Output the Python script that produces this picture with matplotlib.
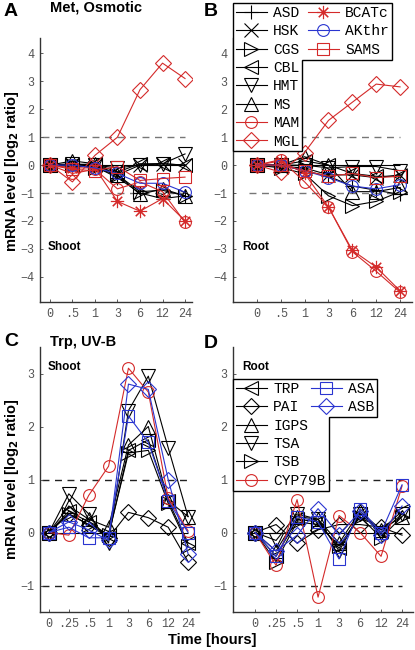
import matplotlib
matplotlib.use("Agg")
import matplotlib.pyplot as plt
from matplotlib.patches import Polygon
import numpy as np

# time points (categorical)
met_times = ['0', '.5', '1', '3', '6', '12', '24']
trp_times = ['0', '.25', '.5', '1', '3', '6', '12', '24']

# Met pathway, osmotic stress, shoot
met_shoot = {
    'ASD':   [0, -0.05, -0.05, -0.45, -1.0, -1.2, -1.1],
    'HSK':   [0, 0.0, 0.0, -0.35, 0.0, 0.05, 0.0],
    'CGS':   [0, 0.0, -0.1, -0.35, -0.95, -0.9, -1.1],
    'CBL':   [0, 0.0, 0.05, -0.25, 0.05, 0.05, 0.0],
    'HMT':   [0, 0.05, 0.0, -0.1, 0.0, 0.05, 0.4],
    'MS':    [0, 0.15, 0.05, -0.35, -1.05, -0.85, -1.1],
    'MAM':   [0, -0.3, -0.15, -0.85, -0.6, -0.95, -2.05],
    'MGL':   [0, -0.6, 0.35, 1.0, 2.7, 3.65, 3.1],
    'BCATc': [0, -0.1, -0.1, -1.3, -1.65, -1.2, -2.0],
    'AKthr': [0, 0.0, -0.1, -0.3, -0.65, -0.65, -0.97],
    'SAMS':  [0, -0.15, -0.2, -0.05, -0.55, -0.48, -0.43],
}

# Met pathway, osmotic stress, root
met_root = {
    'ASD':   [0, 0.0, -0.2, -0.4, -0.75, -0.9, -1.05],
    'HSK':   [0, -0.05, -0.1, -0.35, -0.35, -0.45, -0.35],
    'CGS':   [0, -0.1, -0.3, -1.1, -1.45, -1.3, -0.95],
    'CBL':   [0, 0.0, 0.15, 0.0, -0.3, -0.4, -0.4],
    'HMT':   [0, 0.0, 0.0, -0.1, -0.05, -0.05, -0.2],
    'MS':    [0, 0.0, 0.3, 0.0, -0.95, -0.95, -0.8],
    'MAM':   [0, 0.2, -0.6, -1.5, -3.1, -3.8, -4.55],
    'MGL':   [0, -0.25, 0.45, 1.6, 2.25, 2.9, 2.8],
    'BCATc': [0, 0.15, -0.3, -1.5, -3.05, -3.65, -4.5],
    'AKthr': [0, 0.0, -0.2, -0.45, -0.75, -0.85, -0.7],
    'SAMS':  [0, 0.0, -0.2, -0.4, -0.3, -0.45, -0.4],
}

# Trp pathway, UV-B, shoot
trp_shoot = {
    'TRP':    [0, 0.4, 0.2, -0.05, 1.55, 1.75, 0.6, -0.2],
    'PAI':    [0, 0.35, 0.15, -0.1, 0.38, 0.28, 0.1, -0.55],
    'IGPS':   [0, 0.5, 0.25, 0.1, 1.65, 2.0, 0.6, 0.3],
    'TSA':    [0, 0.73, 0.35, -0.2, 2.3, 2.95, 1.6, 0.3],
    'TSB':    [0, 0.35, 0.15, -0.05, 1.5, 1.55, 0.55, -0.25],
    'CYP79B': [0, -0.05, 0.7, 1.25, 3.1, 2.65, 0.65, 0.03],
    'ASA':    [0, 0.1, -0.1, -0.1, 2.2, 1.7, 0.6, 0.0],
    'ASB':    [0, 0.2, 0.05, -0.15, 2.8, 2.7, 1.0, -0.4],
}

# Trp pathway, UV-B, root
trp_root = {
    'TRP':    [0, -0.45, 0.25, 0.2, -0.3, 0.35, 0.05, 0.4],
    'PAI':    [0, 0.15, -0.2, 0.05, 0.15, 0.15, 0.1, -0.05],
    'IGPS':   [0, -0.35, 0.3, 0.25, -0.2, 0.4, 0.05, 0.3],
    'TSA':    [0, -0.15, 0.35, 0.25, -0.35, 0.35, 0.0, 0.35],
    'TSB':    [0, -0.55, 0.2, 0.15, -0.25, 0.3, -0.1, 0.3],
    'CYP79B': [0, -0.62, 0.62, -1.22, 0.32, 0.0, -0.45, 0.88],
    'ASA':    [0, -0.45, 0.3, 0.2, -0.5, 0.45, 0.0, 0.9],
    'ASB':    [0, -0.35, -0.05, 0.45, -0.05, 0.4, -0.05, 0.5],
}

RED = '#d42a2a'
BLUE = '#2a35d0'
BLACK = '#000000'

met_style = {
    'ASD': ('+', BLACK), 'HSK': ('x', BLACK), 'CGS': ('>', BLACK),
    'CBL': ('<', BLACK), 'HMT': ('v', BLACK), 'MS': ('^', BLACK),
    'MAM': ('o', RED), 'MGL': ('D', RED), 'BCATc': ((8, 2, 0), RED),
    'AKthr': ('o', BLUE), 'SAMS': ('s', RED),
}
trp_style = {
    'TRP': ('<', BLACK), 'PAI': ('D', BLACK), 'IGPS': ('^', BLACK),
    'TSA': ('v', BLACK), 'TSB': ('>', BLACK), 'CYP79B': ('o', RED),
    'ASA': ('s', BLUE), 'ASB': ('D', BLUE),
}

W, H = 415, 650
MONO = 'Liberation Mono'
SANS = 'Liberation Sans'


def px_axes(fig, left, top, right, bottom):
    return fig.add_axes([left / W, 1 - bottom / H, (right - left) / W, (bottom - top) / H])


def draw_panel(ax, times, data, style, xlim, ylim, yticks, dash_color, label):
    x = np.arange(len(times))
    ax.hlines([1, -1], -0.35, len(times) - 1, colors=dash_color,
              linestyles=(0, (5, 4)), linewidth=1.0, zorder=1)
    ax.hlines([0], -0.35, len(times) - 1, colors='black', linewidth=0.8, zorder=1)
    handles = {}
    for name, vals in data.items():
        m, c = style[name]
        ms = 8.5 if m in ('D', 'o', 's') else 9.5
        h, = ax.plot(x, vals, color=c, marker=m, markersize=ms,
                     markerfacecolor='none', markeredgecolor=c,
                     markeredgewidth=0.8, linewidth=0.8, zorder=2)
        handles[name] = h
    ax.set_xlim(*xlim)
    ax.set_ylim(*ylim)
    ax.set_xticks(x)
    ax.set_xticklabels(times)
    ax.set_yticks(yticks)
    ax.set_yticklabels([str(t).replace('-', '\u2212') for t in yticks])
    for s in ['top', 'right']:
        ax.spines[s].set_visible(False)
    for s in ['left', 'bottom']:
        ax.spines[s].set_color('#333333')
        ax.spines[s].set_linewidth(1.0)
    ax.tick_params(direction='in', length=2, width=0.6, colors='#444444',
                   labelsize=8.5, pad=4)
    for t in ax.get_xticklabels() + ax.get_yticklabels():
        t.set_fontfamily(MONO)
        t.set_color('#555555')
    ax.text(0.05, label[1], label[0], transform=ax.transAxes, family=SANS,
            fontsize=8.5, fontweight='bold', va='center')
    return handles


def split_legend(fig, ax, handles, col1, col2, x1, x2, ytop):
    kw = dict(loc='upper left', bbox_transform=fig.transFigure, frameon=False,
              prop={'family': MONO, 'size': 10.5}, handlelength=2.1,
              handletextpad=0.45, borderpad=0.2, labelspacing=0.3,
              borderaxespad=0)
    leg1 = ax.legend([handles[n] for n in col1], col1,
                     bbox_to_anchor=(x1 / W, 1 - ytop / H), **kw)
    ax.add_artist(leg1)
    leg2 = ax.legend([handles[n] for n in col2], col2,
                     bbox_to_anchor=(x2 / W, 1 - ytop / H), **kw)
    leg1.set_zorder(6)
    leg2.set_zorder(6)
    return leg1, leg2


def legend_frame(fig, ax, leg1, leg2):
    fig.canvas.draw()
    r = fig.canvas.get_renderer()
    b1 = leg1.get_window_extent(r)
    b2 = leg2.get_window_extent(r)
    fw, fh = fig.bbox.width, fig.bbox.height
    top = max(b1.y1, b2.y1)
    pts = [(b1.x0, top), (b2.x1, top), (b2.x1, b2.y0), (b1.x1, b2.y0),
           (b1.x1, b1.y0), (b1.x0, b1.y0)]
    pts = [(px / fw, py / fh) for px, py in pts]
    poly = Polygon(pts, closed=True, facecolor='white', edgecolor='black',
                   linewidth=1.0, transform=fig.transFigure, clip_on=False,
                   zorder=5)
    ax.add_patch(poly)


def main():
    fig = plt.figure(figsize=(W / 100, H / 100), dpi=100)

    ax_a = px_axes(fig, 40, 38, 192, 302)
    ax_b = px_axes(fig, 233, 38, 412, 302)
    ax_c = px_axes(fig, 40, 347, 199, 612)
    ax_d = px_axes(fig, 233, 347, 413, 612)

    top_ticks = [-4, -3, -2, -1, 0, 1, 2, 3, 4]
    bot_ticks = [-1, 0, 1, 2, 3]

    draw_panel(ax_a, met_times, met_shoot, met_style, (-0.44, 6.31),
               (-4.9, 4.55), top_ticks, '#777777', ('Shoot', 0.21))
    hb = draw_panel(ax_b, met_times, met_root, met_style, (-1.0, 6.5),
                    (-4.9, 4.55), top_ticks, '#777777', ('Root', 0.21))
    draw_panel(ax_c, trp_times, trp_shoot, trp_style, (-0.45, 7.55),
               (-1.5, 3.5), bot_ticks, '#222222', ('Shoot', 0.925))
    hd = draw_panel(ax_d, trp_times, trp_root, trp_style, (-1.05, 7.52),
                    (-1.5, 3.5), bot_ticks, '#222222', ('Root', 0.925))

    lb = split_legend(fig, ax_b, hb,
                      ['ASD', 'HSK', 'CGS', 'CBL', 'HMT', 'MS', 'MAM', 'MGL'],
                      ['BCATc', 'AKthr', 'SAMS'], 233, 305, 3)
    ld = split_legend(fig, ax_d, hd,
                      ['TRP', 'PAI', 'IGPS', 'TSA', 'TSB', 'CYP79B'],
                      ['ASA', 'ASB'], 233, 308, 379)
    legend_frame(fig, ax_b, *lb)
    legend_frame(fig, ax_d, *ld)

    # panel letters and titles
    for x, y, s in [(4, 11, 'A'), (204, 11, 'B'), (4, 342, 'C'), (204, 343, 'D')]:
        fig.text(x / W, 1 - y / H, s, family=SANS, fontsize=14,
                 fontweight='bold', va='center')
    fig.text(50 / W, 1 - 8 / H, 'Met, Osmotic', family=SANS, fontsize=10.5,
             fontweight='bold', va='center')
    fig.text(50 / W, 1 - 342 / H, 'Trp, UV-B', family=SANS, fontsize=10.5,
             fontweight='bold', va='center')

    ylab = 'mRNA level [log$_\\mathbf{2}$ ratio]'
    fig.text(12 / W, 1 - 171 / H, ylab, rotation=90, family=SANS, fontsize=10.5,
             fontweight='bold', ha='center', va='center')
    fig.text(12 / W, 1 - 479 / H, ylab, rotation=90, family=SANS, fontsize=10.5,
             fontweight='bold', ha='center', va='center')
    fig.text(212 / W, 1 - 640 / H, 'Time [hours]', family=SANS, fontsize=10.5,
             fontweight='bold', ha='center', va='center')

    fig.savefig('out.png', dpi=100)


if __name__ == "__main__":
    main()
